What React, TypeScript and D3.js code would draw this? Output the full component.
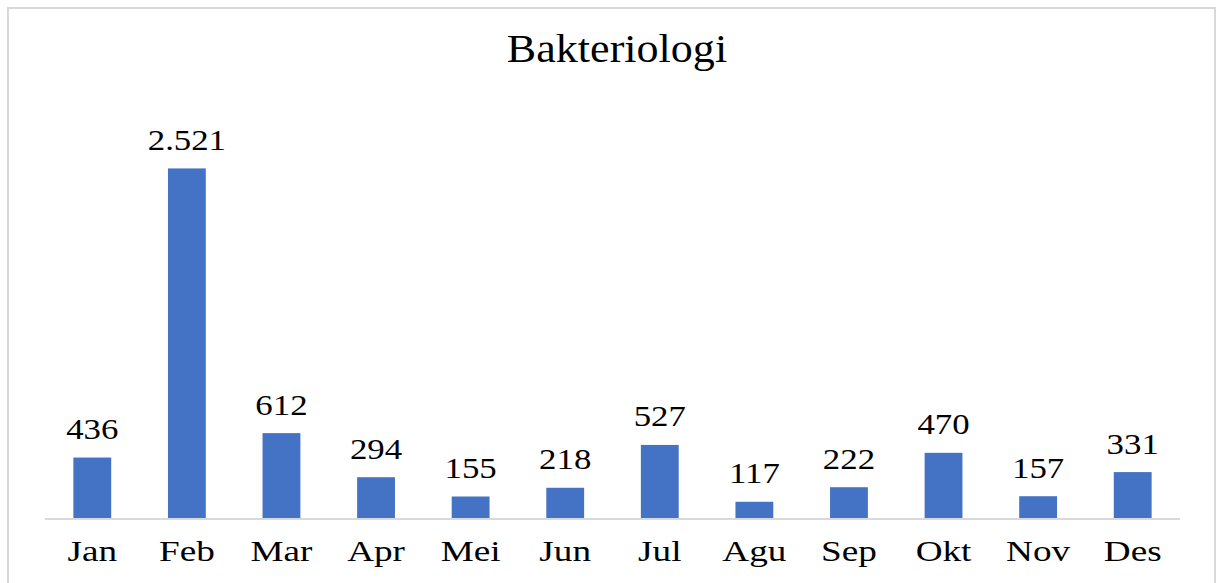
import * as d3 from 'd3'
import { useEffect, useRef } from 'react'

const months = ['Jan', 'Feb', 'Mar', 'Apr', 'Mei', 'Jun', 'Jul', 'Agu', 'Sep', 'Okt', 'Nov', 'Des']
const counts = [436, 2521, 612, 294, 155, 218, 527, 117, 222, 470, 157, 331]
const title = 'Bakteriologi'

const fmt = (v: number) => d3.format(',')(v).replace(/,/g, '.')

const App = () => {
  const ref = useRef<SVGSVGElement>(null)

  useEffect(() => {
    const width = 1216
    const height = 583
    const svg = d3.select(ref.current)
    svg.selectAll('*').remove()
    svg.attr('width', width).attr('height', height)

    const font = '"Liberation Serif", "Times New Roman", serif'

    // frame
    svg
      .append('rect')
      .attr('x', 8)
      .attr('y', 8)
      .attr('width', 1207)
      .attr('height', 620)
      .attr('fill', '#fff')
      .attr('stroke', '#d9d9d9')
      .attr('stroke-width', 2)

    // title
    svg
      .append('text')
      .attr('transform', `translate(617, 62) scale(1.13, 1)`)
      .attr('text-anchor', 'middle')
      .style('font-family', font)
      .style('font-size', '39px')
      .attr('fill', '#000')
      .text(title)

    const x = d3
      .scaleBand()
      .domain(months)
      .range([45, 1180])
      .paddingInner(0.6)
      .paddingOuter(0.3)

    const y = d3.scaleLinear().domain([0, 3000]).range([518, 102])

    // bars
    svg
      .append('g')
      .attr('fill', '#4472c4')
      .selectAll('rect')
      .data(counts)
      .join('rect')
      .attr('x', (d, i) => x(months[i])!)
      .attr('y', (d) => y(d))
      .attr('width', x.bandwidth())
      .attr('height', (d) => y(0) - y(d))

    // axis line
    svg
      .append('line')
      .attr('x1', 45)
      .attr('x2', 1180)
      .attr('y1', y(0) + 1)
      .attr('y2', y(0) + 1)
      .attr('stroke', '#d9d9d9')
      .attr('stroke-width', 2)

    // value labels
    svg
      .append('g')
      .selectAll('text')
      .data(counts)
      .join('text')
      .attr(
        'transform',
        (d, i) => `translate(${x(months[i])! + x.bandwidth() / 2}, ${y(d) - 18.5}) scale(1.2, 1)`
      )
      .attr('text-anchor', 'middle')
      .style('font-family', font)
      .style('font-size', '29px')
      .attr('fill', '#000')
      .text((d) => fmt(d))

    // month labels
    svg
      .append('g')
      .selectAll('text')
      .data(months)
      .join('text')
      .attr('transform', (d) => `translate(${x(d)! + x.bandwidth() / 2}, 561) scale(1.24, 1)`)
      .attr('text-anchor', 'middle')
      .style('font-family', font)
      .style('font-size', '30px')
      .attr('fill', '#000')
      .text((d) => d)
  }, [])

  return (
    <div style={{ position: 'absolute', left: 0, top: 0 }}>
      <svg ref={ref} style={{ display: 'block' }}></svg>
    </div>
  )
}
export default App
